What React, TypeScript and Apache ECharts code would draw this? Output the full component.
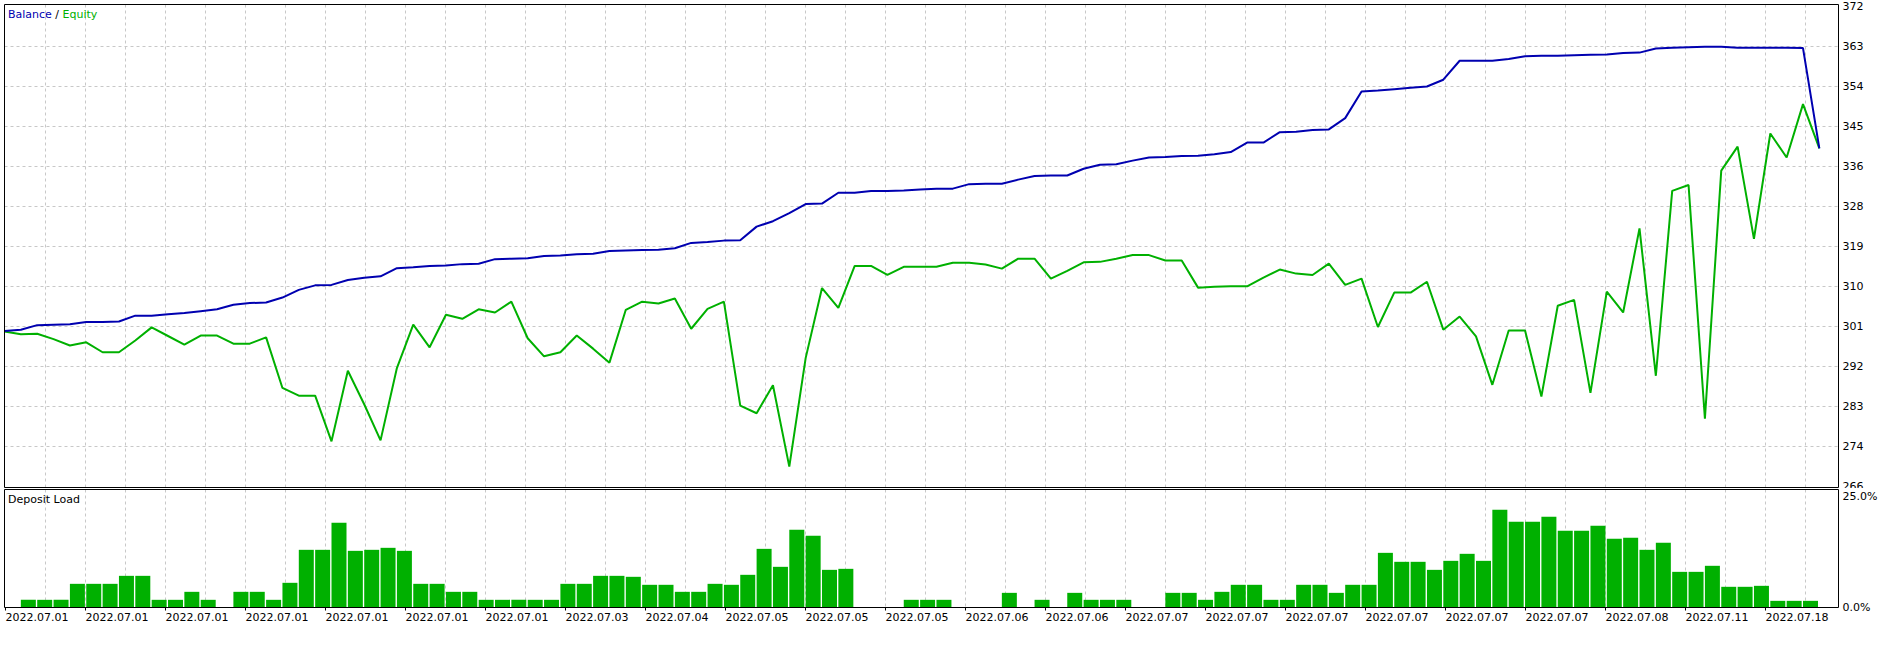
import React, { useEffect, useRef } from "react";
import * as echarts from "echarts";

// ---- Data ----
const dateLabels = [
  "2022.07.01", "2022.07.01", "2022.07.01", "2022.07.01", "2022.07.01", "2022.07.01",
  "2022.07.01", "2022.07.03", "2022.07.04", "2022.07.05", "2022.07.05", "2022.07.05",
  "2022.07.06", "2022.07.06", "2022.07.07", "2022.07.07", "2022.07.07", "2022.07.07",
  "2022.07.07", "2022.07.07", "2022.07.08", "2022.07.11", "2022.07.18",
];

const yTickLabels = ["266", "274", "283", "292", "301", "310", "319", "328", "336", "345", "354", "363", "372"];
const depositTicks = ["0.0%", "25.0%"];

const balance = [
  300.5, 300.8, 301.8, 301.9, 302.0, 302.5, 302.5, 302.6, 303.9, 303.9,
  304.2, 304.5, 304.9, 305.3, 306.3, 306.7, 306.8, 307.9, 309.6, 310.6,
  310.7, 311.8, 312.3, 312.6, 314.4, 314.6, 314.9, 315.0, 315.3, 315.4,
  316.4, 316.5, 316.6, 317.1, 317.2, 317.5, 317.6, 318.2, 318.3, 318.4,
  318.5, 318.8, 320.0, 320.2, 320.5, 320.6, 323.6, 324.8, 326.6, 328.6,
  328.7, 331.1, 331.1, 331.5, 331.5, 331.6, 331.8, 332.0, 332.0, 333.0,
  333.1, 333.1, 334.0, 334.8, 334.9, 334.9, 336.4, 337.3, 337.4, 338.2,
  338.9, 339.0, 339.2, 339.3, 339.6, 340.1, 342.2, 342.2, 344.5, 344.6,
  345.0, 345.1, 347.6, 353.5, 353.7, 354.0, 354.3, 354.6, 356.1, 360.3,
  360.3, 360.3, 360.7, 361.3, 361.4, 361.4, 361.5, 361.6, 361.7, 362.0,
  362.1, 363.0, 363.2, 363.3, 363.4, 363.4, 363.2, 363.2, 363.2, 363.2,
  363.1, 340.9,
];

const equity = [
  300.4, 299.8, 299.9, 298.7, 297.3, 298.0, 295.8, 295.8, 298.4, 301.3,
  299.4, 297.5, 299.5, 299.5, 297.7, 297.7, 299.1, 287.9, 286.2, 286.2,
  276.1, 291.7, 284.3, 276.3, 292.3, 301.9, 296.9, 304.1, 303.2, 305.3,
  304.6, 307.0, 298.9, 294.9, 295.8, 299.5, 296.6, 293.5, 305.2, 307.0,
  306.6, 307.7, 301.0, 305.4, 307.0, 284.0, 282.3, 288.5, 270.5, 294.5,
  310.0, 305.6, 314.9, 314.9, 312.9, 314.7, 314.7, 314.7, 315.6, 315.6,
  315.2, 314.3, 316.5, 316.5, 312.1, 313.8, 315.7, 315.8, 316.5, 317.3,
  317.3, 316.1, 316.1, 310.1, 310.3, 310.4, 310.4, 312.3, 314.1, 313.2,
  312.9, 315.4, 310.7, 312.1, 301.4, 309.0, 309.0, 311.4, 300.8, 303.7,
  299.3, 288.6, 300.6, 300.6, 286.0, 306.1, 307.4, 286.8, 309.2, 304.6,
  323.2, 290.6, 331.5, 332.8, 281.1, 336.0, 341.3, 320.9, 344.2, 338.9,
  350.7, 340.9,
];

// deposit load (%) per deal slot, slot 0 = initial deposit (no bar)
const depositLoad = [
  0, 1.73, 1.73, 1.73, 5.33, 5.33, 5.33, 7.13, 7.13, 1.73,
  1.73, 3.53, 1.73, 0, 3.53, 3.53, 1.73, 5.56, 12.99, 12.99,
  19.07, 12.76, 12.99, 13.44, 12.76, 5.33, 5.33, 3.53, 3.53, 1.73,
  1.73, 1.73, 1.73, 1.73, 5.33, 5.33, 7.13, 7.13, 6.91, 5.11,
  5.11, 3.53, 3.53, 5.33, 5.11, 7.36, 13.21, 9.16, 17.49, 16.14,
  8.48, 8.71, 0, 0, 0, 1.73, 1.73, 1.73, 0, 0,
  0, 3.3, 0, 1.73, 0, 3.3, 1.73, 1.73, 1.73, 0,
  0, 3.3, 3.3, 1.73, 3.53, 5.11, 5.11, 1.73, 1.73, 5.11,
  5.11, 3.3, 5.11, 5.11, 12.31, 10.29, 10.29, 8.48, 10.51, 12.09,
  10.51, 22.0, 19.29, 19.29, 20.42, 17.27, 17.27, 18.39, 15.47, 15.69,
  12.99, 14.57, 8.03, 8.03, 9.39, 4.66, 4.66, 4.88, 1.5, 1.5,
  1.5,
];

// ---- Layout / style constants ----
const FONT = "DejaVu Sans";
const BLUE = "#0000B0";
const GREEN = "#00B000";
const GRID_COLOR = "#C8C8C8";
const PANEL_W = 1834;
const SLOT_PX = 16.35;
const BAR_W = 15;
const XMAX = PANEL_W / SLOT_PX;

const dashed = { color: GRID_COLOR, width: 1, type: [3, 3] as any };

export default function App() {
  const ref = useRef<HTMLDivElement>(null);

  useEffect(() => {
    document.body.style.margin = "0";
    if (!ref.current) return;
    const chart = echarts.init(ref.current, undefined, { renderer: "svg" });

    const labelStyle = { color: "#000", fontSize: 11, fontFamily: FONT };
    const dateTickValues = dateLabels.map((_, i) => i * 80);

    const option: any = {
      animation: false,
      title: [
        {
          left: 8,
          top: 9,
          padding: 0,
          text: "{b|Balance} / {e|Equity}",
          textStyle: {
            fontSize: 11,
            fontFamily: FONT,
            fontWeight: "normal",
            color: "#000",
            rich: {
              b: { color: BLUE, fontSize: 11, fontFamily: FONT },
              e: { color: GREEN, fontSize: 11, fontFamily: FONT },
            },
          },
        },
        {
          left: 8,
          top: 494,
          padding: 0,
          text: "Deposit Load",
          textStyle: { fontSize: 11, fontFamily: FONT, fontWeight: "normal", color: "#000" },
        },
      ],
      grid: [
        { left: 4.5, top: 6.5, width: PANEL_W, height: 480, outerBoundsMode: "none", containLabel: false },
        { left: 5.5, top: 4.5, width: PANEL_W - 1, height: 483, outerBoundsMode: "none", containLabel: false },
        { left: 4.5, top: 496.5, width: PANEL_W, height: 111, outerBoundsMode: "none", containLabel: false },
        { left: 5.5, top: 489.5, width: PANEL_W - 1, height: 118, outerBoundsMode: "none", containLabel: false },
      ],
      xAxis: [
        { gridIndex: 0, type: "value", min: 0, max: XMAX, show: false, position: "bottom" },
        {
          gridIndex: 1, type: "value", min: 0, max: PANEL_W - 1, interval: 40, position: "bottom",
          axisLine: { show: false }, axisTick: { show: false }, axisLabel: { show: false },
          splitLine: { show: true, showMinLine: false, showMaxLine: false, lineStyle: dashed },
        },
        { gridIndex: 2, type: "value", min: 0, max: XMAX, show: false, position: "bottom" },
        {
          gridIndex: 3, type: "value", min: 0, max: PANEL_W - 1, interval: 40, position: "bottom",
          axisLine: { show: false }, axisTick: { show: false }, axisLabel: { show: false },
          splitLine: { show: true, showMinLine: false, showMaxLine: false, lineStyle: dashed },
        },
        {
          gridIndex: 3, type: "value", min: 0, max: PANEL_W - 1, interval: 80, position: "bottom",
          axisLine: { show: false },
          axisTick: { show: true, length: 3, customValues: dateTickValues, lineStyle: { color: "#000", width: 1 } },
          axisLabel: {
            ...labelStyle,
            customValues: dateTickValues,
            align: "left",
            margin: 4,
            showMinLabel: true,
            showMaxLabel: true,
            hideOverlap: false,
            formatter: (v: number) => (v % 80 === 0 && dateLabels[v / 80]) ? dateLabels[v / 80] : "",
          },
          splitLine: { show: false },
        },
      ],
      yAxis: [
        { gridIndex: 0, type: "value", min: 266.1, max: 372.3, show: false, position: "left" },
        {
          gridIndex: 0, type: "value", min: 0, max: 12, interval: 1, position: "right",
          axisLine: { show: false }, axisTick: { show: false },
          axisLabel: {
            ...labelStyle, margin: 4, showMinLabel: true, showMaxLabel: true,
            formatter: (v: number) => yTickLabels[Math.round(v)] ?? "",
          },
          splitLine: { show: true, showMinLine: false, showMaxLine: false, lineStyle: dashed },
        },
        { gridIndex: 1, type: "value", min: 0, max: 1, show: false, position: "left" },
        {
          gridIndex: 2, type: "value", min: 0, max: 25, interval: 25, position: "right",
          axisLine: { show: false }, axisTick: { show: false },
          axisLabel: {
            ...labelStyle, margin: 4, showMinLabel: true, showMaxLabel: true,
            formatter: (v: number) => depositTicks[Math.round(v / 25)] ?? "",
          },
          splitLine: { show: false },
        },
        { gridIndex: 3, type: "value", min: 0, max: 1, show: false, position: "left" },
      ],
      series: [
        {
          type: "line",
          name: "Equity",
          xAxisIndex: 0,
          yAxisIndex: 0,
          data: equity.map((v, i) => [i, v]),
          showSymbol: false,
          symbol: "none",
          lineStyle: { color: GREEN, width: 2 },
          itemStyle: { color: GREEN },
          z: 3,
        },
        {
          type: "line",
          name: "Balance",
          xAxisIndex: 0,
          yAxisIndex: 0,
          data: balance.map((v, i) => [i, v]),
          showSymbol: false,
          symbol: "none",
          lineStyle: { color: BLUE, width: 2 },
          itemStyle: { color: BLUE },
          z: 4,
        },
        {
          type: "bar",
          name: "Deposit Load",
          xAxisIndex: 2,
          yAxisIndex: 3,
          barWidth: BAR_W,
          data: depositLoad.map((v, i) => [i + (BAR_W / 2) / SLOT_PX, v]),
          itemStyle: { color: GREEN },
          z: 3,
        },
      ],
      graphic: [
        {
          type: "rect", z: 100, silent: true,
          shape: { x: 1839, y: 488, width: 54, height: 3.5 },
          style: { fill: "#fff" },
        },
        {
          type: "rect", z: 101, silent: true,
          shape: { x: 4.5, y: 4.5, width: PANEL_W, height: 483 },
          style: { fill: "none", stroke: "#000", lineWidth: 1 },
        },
        {
          type: "rect", z: 101, silent: true,
          shape: { x: 4.5, y: 489.5, width: PANEL_W, height: 118 },
          style: { fill: "none", stroke: "#000", lineWidth: 1 },
        },
      ],
    };

    chart.setOption(option);
    return () => chart.dispose();
  }, []);

  return <div ref={ref} style={{ width: 1893, height: 648 }} />;
}
